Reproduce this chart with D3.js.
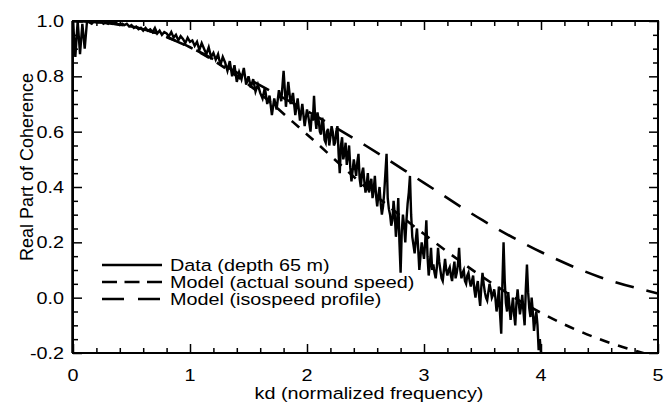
<!DOCTYPE html>
<html>
<head>
<meta charset="utf-8">
<script src="https://cdn.jsdelivr.net/npm/d3@7"></script>
<style>
  body { margin: 0; background: #fff; }
  svg { display: block; }
  text { font-family: "Liberation Sans", Arial, Helvetica, sans-serif; fill: #000; }
</style>
</head>
<body>
<svg id="chart" width="669" height="404"></svg>
<script>
// measured coherence, low band: one value every 0.02 in kd from kd = 0.02 to 2.00
const lowStep = 0.02;
const dataLow = [
  0.87, 1.0, 0.88, 0.99, 0.90, 1.0, 0.995, 0.99, 1.0, 0.995,
  0.995, 1.0, 0.99, 0.995, 0.99, 1.0, 0.99, 0.995, 0.99, 0.985,
  0.99, 0.985, 0.99, 0.98, 0.985, 0.975, 0.98, 0.97, 0.975, 0.965,
  0.975, 0.965, 0.97, 0.96, 0.975, 0.955, 0.965, 0.95, 0.96, 0.955,
  0.945, 0.96, 0.94, 0.95, 0.93, 0.945, 0.935, 0.92, 0.94, 0.925,
  0.93, 0.91, 0.925, 0.895, 0.92, 0.9, 0.88, 0.905, 0.87, 0.885,
  0.86, 0.88, 0.84, 0.87, 0.85, 0.82, 0.855, 0.8, 0.84, 0.78,
  0.815, 0.79, 0.83, 0.77, 0.8, 0.76, 0.79, 0.745, 0.77, 0.74,
  0.72, 0.76, 0.7, 0.73, 0.66, 0.72, 0.68, 0.75, 0.71, 0.82,
  0.69, 0.78, 0.7, 0.74, 0.66, 0.72, 0.64, 0.7, 0.62, 0.68
];
// high band: one value every 0.01 in kd from kd = 2.01 to 4.00
const highStep = 0.01;
const dataHigh = [
  0.66, 0.63, 0.6, 0.66, 0.64, 0.73, 0.65, 0.61, 0.67, 0.64,
  0.6, 0.59, 0.65, 0.63, 0.57, 0.56, 0.6, 0.61, 0.55, 0.58,
  0.62, 0.6, 0.55, 0.56, 0.6, 0.62, 0.52, 0.45, 0.55, 0.58,
  0.5, 0.52, 0.56, 0.48, 0.51, 0.55, 0.47, 0.42, 0.46, 0.5,
  0.47, 0.44, 0.49, 0.52, 0.43, 0.4, 0.45, 0.47, 0.42, 0.38,
  0.41, 0.45, 0.38, 0.41, 0.43, 0.36, 0.39, 0.44, 0.37, 0.33,
  0.37, 0.4, 0.34, 0.3, 0.33, 0.38, 0.45, 0.52, 0.36, 0.32,
  0.3, 0.26, 0.28, 0.35, 0.3, 0.22, 0.27, 0.36, 0.2, 0.09,
  0.24, 0.3, 0.26, 0.2, 0.28, 0.34, 0.38, 0.44, 0.3, 0.22,
  0.19, 0.16, 0.21, 0.25, 0.18, 0.1, 0.15, 0.2, 0.17, 0.14,
  0.2, 0.28, 0.15, 0.08, 0.12, 0.18, 0.1, 0.12, 0.09, 0.07,
  0.11, 0.18, 0.13, 0.1, 0.07, 0.06, 0.1, 0.14, 0.1, 0.08,
  0.1, 0.11, 0.08, 0.06, 0.1, 0.13, 0.07, 0.09, 0.12, 0.18,
  0.1, 0.07, 0.09, 0.1, 0.06, 0.05, 0.08, 0.09, 0.06, 0.04,
  0.06, 0.08, 0.03, 0.0, 0.04, 0.06, 0.01, -0.03, 0.04, 0.09,
  0.05, 0.02, 0.0, -0.01, 0.02, 0.05, 0.03, 0.0, 0.01, 0.03,
  0.0, -0.05, -0.02, 0.04, -0.06, -0.13, 0.05, 0.2, 0.06, -0.02,
  -0.05, 0.02, -0.03, -0.08, -0.04, 0.0, -0.06, -0.1, -0.02, 0.03,
  -0.02, -0.06, -0.03, 0.01, -0.05, -0.1, 0.03, 0.12, 0.02, -0.04,
  -0.07, 0.0, -0.05, -0.12, -0.08, -0.05, -0.1, -0.19, -0.15, -0.2
];

// model curves, read at every 0.5 in kd
const modelKd = [0, 0.5, 1, 1.5, 2, 2.5, 3, 3.5, 4, 4.5, 5];
const actualModel = [1.0, 0.98, 0.905, 0.77, 0.59, 0.40, 0.23, 0.075, -0.055, -0.15, -0.215];
const isoModel = [1.0, 0.98, 0.905, 0.79, 0.675, 0.55, 0.415, 0.28, 0.165, 0.075, 0.015];

const xTickLabels = [0, 1, 2, 3, 4, 5];
const yTickLabels = [-0.2, 0.0, 0.2, 0.4, 0.6, 0.8, 1.0];
const legendLabels = ["Data (depth 65 m)", "Model (actual sound speed)", "Model (isospeed profile)"];

const svg = d3.select("#chart");
const mLeft = 73, mRight = 658, mTop = 21, mBottom = 353;
const stretch = 1.2; // the printed lettering is wider than it is tall

const x = d3.scaleLinear().domain([0, 5]).range([mLeft, mRight]);
const y = d3.scaleLinear().domain([-0.2, 1.0]).range([mBottom, mTop]);

// clip so the model that goes below -0.2 stays inside
svg.append("defs").append("clipPath").attr("id", "plotclip")
  .append("rect").attr("x", mLeft).attr("y", mTop)
  .attr("width", mRight - mLeft).attr("height", mBottom - mTop);

const plot = svg.append("g").attr("clip-path", "url(#plotclip)");

const dataPts = [[0.0, 1.0]]
  .concat(dataLow.map((v, i) => [lowStep * (i + 1), v]))
  .concat(dataHigh.map((v, i) => [2 + highStep * (i + 1), v]));

const line = d3.line().x(d => x(d[0])).y(d => y(d[1]));
const smooth = d3.line().x(d => x(d[0])).y(d => y(d[1])).curve(d3.curveMonotoneX);

plot.append("path")
  .datum(modelKd.map((k, i) => [k, isoModel[i]]))
  .attr("d", smooth)
  .attr("fill", "none").attr("stroke", "#000")
  .attr("stroke-width", 2.6).attr("stroke-dasharray", "19,13");

plot.append("path")
  .datum(modelKd.map((k, i) => [k, actualModel[i]]))
  .attr("d", smooth)
  .attr("fill", "none").attr("stroke", "#000")
  .attr("stroke-width", 2.6).attr("stroke-dasharray", "10,9");

plot.append("path")
  .datum(dataPts)
  .attr("d", line)
  .attr("fill", "none").attr("stroke", "#000")
  .attr("stroke-width", 2.4).attr("stroke-linejoin", "miter");

// axes: ticks point inward on all four sides
const isMajorX = d => Math.abs(d - Math.round(d)) < 1e-6;
const isMajorY = d => Math.abs(d * 5 - Math.round(d * 5)) < 1e-6;

svg.append("g")
  .attr("transform", "translate(0," + mBottom + ")")
  .call(d3.axisTop(x).tickValues(d3.range(0, 5.01, 0.2)).tickFormat(""))
  .call(g => g.selectAll(".tick line").attr("y2", d => isMajorX(d) ? -9 : -5))
  .call(g => g.select(".domain").remove())
  .attr("stroke-width", 1.5);

svg.append("g")
  .attr("transform", "translate(0," + mTop + ")")
  .call(d3.axisBottom(x).tickValues(d3.range(0, 5.01, 0.2)).tickFormat(""))
  .call(g => g.selectAll(".tick line").attr("y2", d => isMajorX(d) ? 9 : 5))
  .call(g => g.select(".domain").remove())
  .attr("stroke-width", 1.5);

svg.append("g")
  .attr("transform", "translate(" + mLeft + ",0)")
  .call(d3.axisRight(y).tickValues(d3.range(-0.2, 1.001, 0.05)).tickFormat(""))
  .call(g => g.selectAll(".tick line").attr("x2", d => isMajorY(d) ? 9 : 5))
  .call(g => g.select(".domain").remove())
  .attr("stroke-width", 1.5);

svg.append("g")
  .attr("transform", "translate(" + mRight + ",0)")
  .call(d3.axisLeft(y).tickValues(d3.range(-0.2, 1.001, 0.05)).tickFormat(""))
  .call(g => g.selectAll(".tick line").attr("x2", d => isMajorY(d) ? -9 : -5))
  .call(g => g.select(".domain").remove())
  .attr("stroke-width", 1.5);

// frame
svg.append("rect")
  .attr("x", mLeft).attr("y", mTop)
  .attr("width", mRight - mLeft).attr("height", mBottom - mTop)
  .attr("fill", "none").attr("stroke", "#000").attr("stroke-width", 2);
svg.append("line")
  .attr("x1", mLeft - 0.5).attr("x2", mLeft - 0.5).attr("y1", mTop).attr("y2", mBottom)
  .attr("stroke", "#000").attr("stroke-width", 2.5);

// tick labels
svg.selectAll(".xlab").data(xTickLabels).enter().append("text")
  .attr("transform", d => "translate(" + x(d) + "," + (mBottom + 28) + ") scale(" + stretch + ",1)")
  .attr("text-anchor", "middle").attr("font-size", "16.5px")
  .text(d => d);

svg.selectAll(".ylab").data(yTickLabels).enter().append("text")
  .attr("transform", d => "translate(" + (mLeft - 9) + "," + (y(d) + 6) + ") scale(" + stretch + ",1)")
  .attr("text-anchor", "end").attr("font-size", "16.5px")
  .text(d => d.toFixed(1));

svg.append("text")
  .attr("transform", "translate(369,399) scale(" + stretch + ",1)")
  .attr("text-anchor", "middle").attr("font-size", "16.5px")
  .text("kd (normalized frequency)");

svg.append("text")
  .attr("transform", "translate(33,167) rotate(-90)")
  .attr("text-anchor", "middle").attr("font-size", "18px")
  .text("Real Part of Coherence");

// legend
const dashes = [null, "15,7.5", "22,14"];
const legend = svg.append("g");
legendLabels.forEach((lab, i) => {
  const ly = 265 + i * 17;
  legend.append("line")
    .attr("x1", 102).attr("x2", 162).attr("y1", ly).attr("y2", ly)
    .attr("stroke", "#000").attr("stroke-width", 2.4)
    .attr("stroke-dasharray", dashes[i]);
  legend.append("text")
    .attr("transform", "translate(170," + (ly + 6) + ") scale(" + stretch + ",1)")
    .attr("font-size", "16.5px")
    .text(lab);
});
</script>
</body>
</html>
